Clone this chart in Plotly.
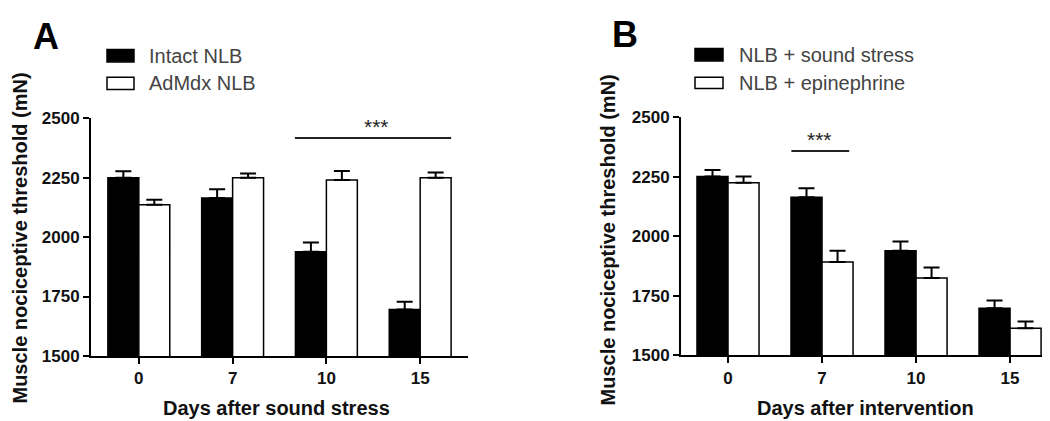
import plotly.graph_objects as go

# ---- data ----
days = ["0", "7", "10", "15"]

a_intact = [2250, 2164, 1938, 1696]
a_intact_err = [27, 37, 39, 32]
a_admdx = [2136, 2250, 2240, 2250]
a_admdx_err = [21, 17, 38, 22]

b_sound = [2250, 2163, 1939, 1697]
b_sound_err = [27, 38, 38, 33]
b_epi = [2224, 1891, 1824, 1614]
b_epi_err = [26, 48, 44, 28]

a_names = ["Intact NLB", "AdMdx NLB"]
b_names = ["NLB + sound stress", "NLB + epinephrine"]

# significance brackets (category-index units, value units)
a_sig = dict(x0=1.665, x1=3.33, y=2417, xt=2.53, yt=2465)
b_sig = dict(x0=0.674, x1=1.289, y=2357, xt=0.977, yt=2405)

y_ticks = [1500, 1750, 2000, 2250, 2500]

FONT = "Arial, Liberation Sans, sans-serif"
W, H = 1050, 421

fig = go.Figure()


def bar(x, y, err, fill, xa, ya):
    return go.Bar(
        x=x, y=y, xaxis=xa, yaxis=ya, showlegend=False,
        marker=dict(color=fill, line=dict(color="black", width=1.5)),
        error_y=dict(type="data", array=err, arrayminus=[0] * len(err),
                     symmetric=False, color="black", thickness=2, width=8),
    )


fig.add_trace(bar(days, a_intact, a_intact_err, "black", "x", "y"))
fig.add_trace(bar(days, a_admdx, a_admdx_err, "white", "x", "y"))
fig.add_trace(bar(days, b_sound, b_sound_err, "black", "x2", "y2"))
fig.add_trace(bar(days, b_epi, b_epi_err, "white", "x2", "y2"))

axis_common = dict(
    showline=True, linecolor="black", linewidth=2,
    ticks="outside", ticklen=6, tickwidth=2, tickcolor="black",
    showgrid=False, zeroline=False,
    tickfont=dict(family=FONT, size=17, color="#111", weight="bold"),
)

fig.update_layout(
    width=W, height=H,
    margin=dict(l=0, r=0, t=0, b=0),
    paper_bgcolor="white", plot_bgcolor="white",
    barmode="group", bargap=0.34, bargroupgap=0,
    xaxis=dict(domain=[83 / W, 460 / W], type="category",
               range=[-0.51, 3.51], anchor="y", **axis_common),
    yaxis=dict(domain=[1 - 355 / H, 1 - 106 / H], range=[1500, 2500],
               tickvals=y_ticks, anchor="x", **axis_common),
    xaxis2=dict(domain=[673 / W, 1.0], type="category",
                range=[-0.5, 3.51], anchor="y2", **axis_common),
    yaxis2=dict(domain=[1 - 354.3 / H, 1 - 104.7 / H], range=[1500, 2500],
                tickvals=y_ticks, anchor="x2", **axis_common),
)

shapes = []
ann = []

# significance lines
for sig, xr, yr in [(a_sig, "x", "y"), (b_sig, "x2", "y2")]:
    shapes.append(dict(type="line", xref=xr, yref=yr, x0=sig["x0"], x1=sig["x1"],
                       y0=sig["y"], y1=sig["y"], line=dict(color="#222", width=2)))
    ann.append(dict(text="***", xref=xr, yref=yr, x=sig["xt"], y=sig["yt"],
                    showarrow=False, xanchor="center", yanchor="middle",
                    font=dict(family=FONT, size=21, color="#222")))

# legends (drawn boxes + text)
def legend(names, x_box, ys_box, x_text):
    for name, fill, (y0, y1) in zip(names, ["black", "white"], ys_box):
        shapes.append(dict(type="rect", xref="paper", yref="paper",
                           x0=x_box[0] / W, x1=x_box[1] / W,
                           y0=1 - y1 / H, y1=1 - y0 / H,
                           fillcolor=fill, line=dict(color="black", width=1.5)))
        ann.append(dict(text=name, xref="paper", yref="paper",
                        x=x_text / W, y=1 - (y0 + y1) / 2 / H,
                        xanchor="left", yanchor="middle", showarrow=False,
                        font=dict(family=FONT, size=20, color="#444")))


legend(a_names, (99, 126), [(34, 47), (63, 76)], 139)
legend(b_names, (687, 715), [(33, 46), (63, 75)], 729)

# panel letters
for letter, cx, cy in [("A", 37.7, 20), ("B", 616.7, 18.5)]:
    ann.append(dict(text=letter, xref="paper", yref="paper", x=cx / W, y=1 - cy / H,
                    xanchor="center", yanchor="middle", showarrow=False,
                    font=dict(family=FONT, size=36, color="black", weight="bold")))

# axis titles
ytitle = "Muscle nociceptive threshold (mN)"
for cx, cy in [(12, 232), (600, 234)]:
    ann.append(dict(text=ytitle, xref="paper", yref="paper", x=cx / W, y=1 - cy / H,
                    xanchor="center", yanchor="middle", showarrow=False, textangle=-90,
                    font=dict(family=FONT, size=20, color="#111", weight="bold")))
for text, cx in [("Days after sound stress", 268.5), ("Days after intervention", 857)]:
    ann.append(dict(text=text, xref="paper", yref="paper", x=cx / W, y=1 - 410 / H,
                    xanchor="center", yanchor="middle", showarrow=False,
                    font=dict(family=FONT, size=20, color="#111", weight="bold")))

fig.update_layout(shapes=shapes, annotations=ann)
fig.write_html("out.html")
